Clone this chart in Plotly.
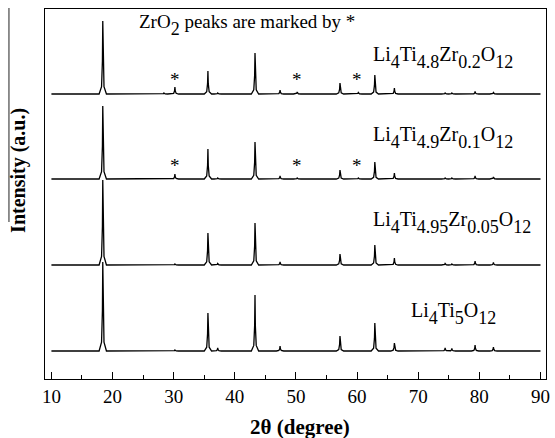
import plotly.graph_objects as go

# ---- data ----
peak_pos = [18.4, 28.4, 30.2, 35.6, 37.2, 43.3, 47.4, 50.2, 57.2, 60.2, 62.9, 66.1, 74.4, 75.5, 79.3, 82.3]
i_zr02 = [73, 1, 7, 23, 1, 41, 4, 2, 11, 1.5, 19, 6, 1, 1, 2.5, 1.5]
i_zr01 = [73, 0.5, 5, 30, 1, 37, 3, 1, 9, 1, 17, 6, 1, 1, 3, 2]
i_zr005 = [85, 0, 1, 32, 1.5, 42, 3, 0, 11, 0, 20, 7, 1.5, 1, 4, 2.5]
i_lto = [89, 0, 1, 38, 3, 56, 5, 0, 15, 0, 28, 8, 3, 2.5, 6, 4]
label_parts = [
    [("Li", "4"), ("Ti", "4.8"), ("Zr", "0.2"), ("O", "12")],
    [("Li", "4"), ("Ti", "4.9"), ("Zr", "0.1"), ("O", "12")],
    [("Li", "4"), ("Ti", "4.95"), ("Zr", "0.05"), ("O", "12")],
    [("Li", "4"), ("Ti", "5"), ("O", "12")],
]
zro2_marks = [30.2, 50.2, 60.0]
x_ticks = [10, 20, 30, 40, 50, 60, 70, 80, 90]

# ---- style / layout constants ----
series = [i_zr02, i_zr01, i_zr005, i_lto]
offsets = [285, 200, 114, 28]
prof_dx = [-0.6, -0.2, -0.06, 0, 0.06, 0.2, 0.6]
prof_f = [0, 0.1, 0.45, 1, 0.45, 0.1, 0]
FONT = "Times New Roman, Liberation Serif, serif"
SUBSIZE = 18


def sub(t):
    return "<sub><sub><span style='font-size:%dpx'>%s</span></sub></sub>" % (SUBSIZE, t)


def formula(parts):
    return "".join(el + sub(n) for el, n in parts)


fig = go.Figure()
for ints, off in zip(series, offsets):
    xs, ys = [10.0], [off]
    for p, h in zip(peak_pos, ints):
        for dx, f in zip(prof_dx, prof_f):
            xs.append(p + dx)
            ys.append(off + h * f)
    xs.append(90.0)
    ys.append(off)
    fig.add_trace(go.Scatter(x=xs, y=ys, mode="lines",
                             line=dict(color="black", width=1.3),
                             showlegend=False, hoverinfo="skip"))

label_pos = [(62.2, 322), (62.2, 242), (62.2, 157), (68.5, 66)]
for (lx, ly), parts in zip(label_pos, label_parts):
    fig.add_annotation(x=lx, y=ly, text=formula(parts), showarrow=False, xanchor="left",
                       yanchor="middle", font=dict(family=FONT, size=20, color="black"))

fig.add_annotation(x=24.0, y=354, text="ZrO" + sub("2") + " peaks are marked by *",
                   showarrow=False, xanchor="left", yanchor="middle",
                   font=dict(family=FONT, size=19, color="black"))
for yy in (300, 214):
    for mx in zro2_marks:
        fig.add_annotation(x=mx, y=yy, text="*", showarrow=False,
                           font=dict(family=FONT, size=19, color="black"))

fig.add_annotation(xref="paper", yref="paper", x=(18 - 45.3) / 504.7, y=(379 - 170) / 370,
                   xanchor="center", yanchor="middle",
                   text="<b>Intensity (a.u.)</b>", textangle=-90, showarrow=False,
                   font=dict(family=FONT, size=20, color="black"))
fig.add_annotation(xref="paper", yref="paper", x=(302 - 45.3) / 504.7, y=(379 - 427) / 370,
                   xanchor="center", yanchor="middle",
                   text="<b>2θ (degree)</b>", showarrow=False,
                   font=dict(family=FONT, size=21, color="black"))

# scanning artifact line at far left
fig.add_shape(type="line", xref="paper", yref="paper",
              x0=(9 - 45.3) / 504.7, x1=(9 - 45.3) / 504.7,
              y0=(379 - 8) / 370, y1=(379 - 222) / 370,
              line=dict(color="#222222", width=1))

fig.update_layout(
    width=555, height=438,
    margin=dict(l=45, r=5, t=9, b=59),
    paper_bgcolor="white", plot_bgcolor="white",
    font=dict(family=FONT, size=19, color="black"),
    xaxis=dict(range=[8.95, 90.9], tickvals=x_ticks, ticks="inside", ticklen=7,
               tickwidth=1, tickcolor="black", showline=True, linecolor="black",
               linewidth=1.3, mirror=True, showgrid=False, zeroline=False,
               minor=dict(dtick=5, tick0=5, ticks="inside", ticklen=4, tickcolor="black"),
               tickfont=dict(family=FONT, size=19, color="black")),
    yaxis=dict(range=[0, 370], showticklabels=False, ticks="", showline=True,
               linecolor="black", linewidth=1.3, mirror=True, showgrid=False,
               zeroline=False),
)

fig.write_html("out.html")
